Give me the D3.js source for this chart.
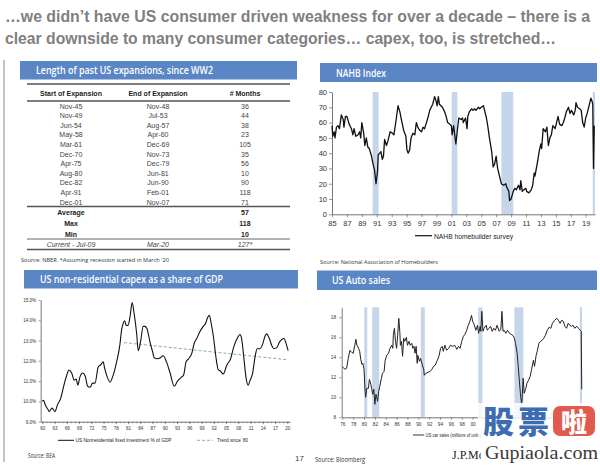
<!DOCTYPE html>
<html><head><meta charset="utf-8">
<script src="https://cdn.jsdelivr.net/npm/d3@7"></script>
<style>body{margin:0;background:#fff}svg{display:block}</style>
</head><body>
<svg id="c" width="600" height="465"></svg>
<script>
// ---------------- DATA ----------------
const titleLines = ["…we didn’t have US consumer driven weakness for over a decade – there is a",
                    "clear downside to many consumer categories… capex, too, is stretched…"];
const panelTitles = ["Length of past US expansions, since WW2", "NAHB Index",
                     "US non-residential capex as a share of GDP", "US Auto sales"];

const tableHead = ["Start of Expansion", "End of Expansion", "# Months"];
const expStart = ["Nov-45","Nov-49","Jun-54","May-58","Mar-61","Dec-70","Apr-75","Aug-80","Dec-82","Apr-91","Dec-01"];
const expEnd   = ["Nov-48","Jul-53","Aug-57","Apr-60","Dec-69","Nov-73","Dec-79","Jun-81","Jun-90","Feb-01","Nov-07"];
const expMonths = [36,44,38,23,105,35,56,10,90,118,71];
const statLabels = ["Average","Max","Min"];
const statValues = [57,118,10];
const currentRow = ["Current - Jul-09","Mar-20","127*"];

const nahbDates = [1985.0,1985.1,1985.3,1985.4,1985.6,1985.8,1986.0,1986.25,1986.5,1986.6,1986.8,1987.0,1987.3,1987.6,1987.8,1987.95,1988.2,1988.5,1988.7,1988.85,1989.0,1989.25,1989.4,1989.6,1989.8,1990.0,1990.3,1990.5,1990.7,1990.9,1991.1,1991.2,1991.4,1991.55,1991.75,1991.9,1992.05,1992.3,1992.5,1992.8,1993.1,1993.3,1993.6,1993.85,1994.1,1994.3,1994.6,1994.9,1995.05,1995.2,1995.4,1995.6,1995.85,1996.1,1996.3,1996.5,1996.75,1997.0,1997.2,1997.4,1997.6,1997.9,1998.1,1998.3,1998.5,1998.75,1998.9,1999.1,1999.25,1999.4,1999.8,2000.1,2000.3,2000.5,2000.76,2001.0,2001.1,2001.3,2001.6,2001.8,2002.0,2002.3,2002.5,2002.6,2002.9,2003.1,2003.2,2003.4,2003.7,2003.9,2004.1,2004.3,2004.6,2004.8,2005.0,2005.3,2005.4,2005.7,2005.9,2006.1,2006.4,2006.6,2006.8,2007.0,2007.2,2007.5,2007.7,2008.0,2008.3,2008.4,2008.7,2008.8,2009.0,2009.3,2009.5,2009.7,2010.0,2010.2,2010.3,2010.5,2010.7,2011.0,2011.1,2011.4,2011.7,2011.9,2012.1,2012.2,2012.5,2012.8,2013.0,2013.1,2013.3,2013.6,2013.8,2014.0,2014.2,2014.4,2014.6,2014.9,2015.1,2015.3,2015.5,2015.8,2016.0,2016.2,2016.4,2016.7,2016.9,2017.1,2017.4,2017.6,2017.7,2017.9,2018.2,2018.4,2018.6,2018.8,2019.0,2019.2,2019.4,2019.7,2019.85,2019.95,2020.05,2020.15];
const nahbValues = [58,51,54,50,57,58,56,65,62,57,64,64,59,56,52,56,51,52,54,50,60,53,45,50,44,43,38,33,29,20,28,39,40,41,36,38,49,45,48,54,53,52,62,71,67,62,55,51,42,40,42,50,53,52,60,57,55,54,57,56,59,64,68,70,72,77,75,71,77,72,70,67,64,60,59,58,52,58,46,55,63,62,63,60,63,56,64,67,69,68,69,68,70,69,70,71,69,63,57,50,41,31,33,38,30,24,20,19,20,18,15,9,10,15,17,16,19,16,22,15,16,17,15,14,16,19,27,25,33,42,46,43,56,54,57,45,50,52,58,56,60,64,59,58,60,63,67,70,66,68,65,68,73,70,69,68,60,57,63,66,70,76,74,72,30,58];
const nahbRecessions = [[1990.45,1991.25],[2001.05,2001.8],[2007.7,2009.3],[2019.95,2020.25]];
const nahbYTicks = [0,10,20,30,40,50,60,70,80];
const nahbXTicks = [1985,1987,1989,1991,1993,1995,1997,1999,2001,2003,2005,2007,2009,2011,2013,2015,2017,2019];

const capexDates = [1960.0,1960.3,1960.8,1961.4,1961.7,1962.4,1963.1,1963.7,1964.5,1965.3,1966.0,1966.5,1967.2,1967.8,1968.3,1968.7,1969.2,1969.9,1970.5,1971.1,1971.7,1972.3,1972.9,1973.7,1974.3,1974.9,1975.3,1975.9,1976.6,1977.2,1978.2,1979.0,1979.4,1979.8,1980.2,1980.5,1981.0,1981.5,1982.0,1982.5,1983.1,1983.5,1984.1,1984.7,1985.1,1985.6,1986.4,1987.0,1987.4,1988.2,1988.9,1989.6,1990.4,1991.3,1992.3,1993.1,1994.1,1994.6,1995.2,1995.8,1996.6,1997.2,1997.8,1998.6,1999.4,2000.0,2000.4,2000.9,2001.3,2001.9,2002.5,2003.1,2003.6,2004.3,2005.2,2006.1,2006.9,2007.7,2008.4,2008.8,2009.4,2009.9,2010.4,2010.9,2011.5,2012.1,2012.6,2013.3,2014.0,2014.5,2014.9,2015.6,2016.2,2016.7,2017.4,2018.0,2018.6,2019.2,2019.7,2020.2];
const capexValues = [10.0,10.05,9.8,9.6,9.5,9.67,9.5,9.83,10.15,10.8,11.3,11.55,11.4,11.05,11.1,10.8,11.2,11.4,11.25,10.75,10.7,10.9,10.9,11.7,11.8,11.95,11.6,11.2,10.95,11.2,11.95,12.8,13.5,13.85,13.98,13.75,13.75,14.2,14.87,14.3,13.35,12.5,13.0,13.7,13.7,13.6,12.9,12.45,12.15,12.1,12.15,12.25,11.95,11.4,10.75,11.0,11.2,11.3,11.95,12.1,12.37,12.87,13.1,13.45,13.7,13.85,14.1,14.25,13.9,13.2,12.2,11.55,11.5,11.35,11.8,12.1,12.7,13.1,13.3,13.1,12.05,11.15,10.8,11.05,11.4,12.2,12.6,12.6,12.85,13.2,13.33,13.1,12.75,12.6,12.65,12.9,13.05,13.1,12.85,12.5];
const trendDates = [1980.0, 2020.2];
const trendValues = [12.9, 12.05];
const capexYTicks = [9,10,11,12,13,14,15];
const capexXTicks = [1960,1963,1966,1969,1972,1975,1978,1981,1984,1987,1990,1993,1996,1999,2002,2005,2008,2011,2014,2017,2020];

const autoDates = [1976.0,1976.5,1976.8,1977.1,1977.4,1977.7,1978.0,1978.3,1978.5,1978.7,1979.0,1979.2,1979.4,1979.6,1979.8,1980.0,1980.2,1980.3,1980.5,1980.8,1981.0,1981.25,1981.4,1981.6,1981.8,1982.0,1982.2,1982.3,1982.5,1982.7,1982.9,1983.2,1983.4,1983.7,1983.9,1984.2,1984.5,1984.8,1985.1,1985.3,1985.4,1985.6,1985.8,1986.0,1986.2,1986.4,1986.6,1986.7,1986.9,1987.1,1987.3,1987.5,1987.8,1988.0,1988.3,1988.5,1988.8,1989.0,1989.2,1989.4,1989.6,1989.8,1989.9,1990.2,1990.4,1990.7,1991.0,1991.1,1991.4,1991.8,1992.2,1992.5,1992.8,1993.1,1993.5,1993.8,1994.1,1994.4,1994.6,1994.9,1995.2,1995.6,1995.9,1996.3,1996.7,1997.1,1997.4,1997.7,1998.0,1998.3,1998.6,1998.9,1999.2,1999.5,1999.8,2000.0,2000.2,2000.6,2000.9,2001.1,2001.4,2001.5,2001.7,2001.9,2002.1,2002.5,2002.7,2003.0,2003.3,2003.6,2003.9,2004.2,2004.5,2004.9,2005.2,2005.4,2005.6,2005.8,2006.1,2006.4,2006.8,2007.1,2007.4,2007.7,2007.9,2008.2,2008.4,2008.6,2008.8,2009.0,2009.1,2009.3,2009.5,2009.8,2010.0,2010.3,2010.6,2010.9,2011.2,2011.4,2011.7,2011.9,2012.2,2012.5,2012.8,2013.1,2013.4,2013.75,2014.1,2014.4,2014.7,2015.1,2015.5,2015.8,2016.1,2016.4,2016.7,2017.0,2017.3,2017.6,2017.9,2018.2,2018.5,2018.8,2019.2,2019.5,2019.8,2020.0,2020.1];
const autoValues = [13.06,12.8,12.9,13.9,14.7,14.5,14.4,15.2,15.8,15.2,14.9,14.6,13.8,13.3,13.4,12.8,10.6,10.0,10.9,10.9,11.8,11.3,10.9,10.3,10.8,9.3,10.3,10.1,9.6,10.6,11.1,11.9,12.4,12.6,13.7,14.2,14.4,14.9,15.2,14.9,16.2,16.9,15.6,14.9,16.2,17.9,16.5,15.2,15.6,14.1,15.9,15.6,16.0,15.2,15.6,15.2,15.4,14.9,15.1,14.4,15.1,13.4,14.2,13.6,13.9,13.3,12.8,12.2,12.4,12.5,12.6,12.8,13.1,13.2,13.7,14.1,14.9,15.1,14.6,15.2,14.7,14.9,15.2,15.1,15.2,14.8,15.1,14.9,15.6,16.1,16.3,16.7,17.2,17.6,18.2,17.6,17.4,16.7,17.2,16.4,17.1,16.6,18.6,16.6,16.9,17.2,16.7,16.9,17.1,16.6,16.9,16.7,17.2,16.6,16.8,18.6,16.6,16.7,16.4,16.7,16.4,16.3,16.2,15.9,15.4,14.4,13.1,11.7,10.4,9.4,9.6,11.9,10.4,10.9,11.4,11.7,12.1,12.9,13.7,13.1,14.2,14.6,15.4,15.6,15.7,15.9,16.2,16.7,17.0,16.9,17.4,17.7,17.9,17.7,17.4,17.7,17.6,17.1,16.9,17.4,17.2,17.1,17.2,16.9,17.1,16.9,16.7,16.6,10.8];
const autoRecessions = [[1980.05,1980.6],[1981.5,1982.8],[1990.45,1991.2],[2001.05,2001.8],[2007.7,2009.35],[2019.75,2020.15]];
const autoYTicks = [8,10,12,14,16,18];
const autoXTicks = [1976,1978,1980,1982,1984,1986,1988,1990,1992,1994,1996,1998,2000,2002,2004,2006,2008,2010,2012,2014,2016,2018,2020];
const autoLastVisibleLabel = 2000; // later labels are hidden beneath the watermark in the reference

const sources = ["Source: NBER. *Assuming recession started in March '20", "Source: National Association of Homebuilders", "Source: BEA", "Source: Bloomberg"];
const legendLabels = ["NAHB homebuilder survey","US Nonresidential fixed investment % of GDP","Trend since '80","US car sales (millions of units)"];

// ---------------- DRAW ----------------
const svg = d3.select('#c');
const SANS = "Liberation Sans, Arial, sans-serif";
const NARROW = "Liberation Sans Narrow, Liberation Sans, Arial, sans-serif";
const HEAD = "Open Sans, DejaVu Sans, sans-serif";
const BLUE = "#5a86c5", BAND = "#c6d6ea";

function txt(g, x, y, s, o = {}) {
  const t = g.append('text').attr('x', x).attr('y', y).text(s)
    .attr('font-family', o.ff || SANS).attr('font-size', o.fs || 7)
    .attr('fill', o.fill || '#333').attr('text-anchor', o.anchor || 'start');
  if (o.fw) t.attr('font-weight', o.fw);
  if (o.fst) t.attr('font-style', o.fst);
  if (o.len) t.attr('textLength', o.len).attr('lengthAdjust', 'spacingAndGlyphs');
  return t;
}
function styleAxis(g, fs) {
  g.selectAll('path.domain').attr('stroke', '#555').attr('stroke-width', 0.8);
  g.selectAll('.tick line').attr('stroke', '#555').attr('stroke-width', 0.6);
  g.selectAll('.tick text').attr('font-family', NARROW).attr('font-size', fs).attr('fill', '#333');
}
const yy = d => String(d % 100).padStart(2, '0');

// Title
txt(svg, 5, 22, titleLines[0], {fs: 16, fw: 'bold', fill: '#808080', len: 585});
txt(svg, 5, 44, titleLines[1], {fs: 16, fw: 'bold', fill: '#808080', len: 551});

// left border
svg.append('line').attr('x1', 4).attr('x2', 4).attr('y1', 60).attr('y2', 462).attr('stroke', '#c4c4c4').attr('stroke-width', 2);

// panel headers
const heads = [[20, 61, 277, 18.5, 36, 74, 177], [320, 63, 277, 19, 336, 76.5, 50], [24, 270, 274, 18.5, 40, 283, 183], [317, 270.5, 280, 19.5, 332, 284, 58]];
heads.forEach((h, i) => {
  svg.append('rect').attr('x', h[0]).attr('y', h[1]).attr('width', h[2]).attr('height', h[3]).attr('fill', BLUE);
  txt(svg, h[4], h[5], panelTitles[i], {ff: HEAD, fs: 10, fw: 600, fill: '#fff', len: h[6]});
});

// ---- Table ----
const tg = svg.append('g');
const colX = [71, 158, 245];
[[84, 1.6], [101, 1.3], [206.5, 1.3], [239, 0.9], [249.5, 1.6]].forEach(r =>
  tg.append('line').attr('x1', 27).attr('x2', 290).attr('y1', r[0]).attr('y2', r[0]).attr('stroke', '#555').attr('stroke-width', r[1]));
tableHead.forEach((s, i) => txt(tg, colX[i], 95.5, s, {ff: NARROW, fs: 7, fw: 'bold', fill: '#222', anchor: 'middle'}));
const rowY = d3.scalePoint().domain(d3.range(expStart.length)).range([106, 202]);
expStart.forEach((s, i) => {
  const y = rowY(i) + 2.5;
  txt(tg, colX[0], y, s, {ff: NARROW, fs: 7, fill: '#444', anchor: 'middle'});
  txt(tg, colX[1], y, expEnd[i], {ff: NARROW, fs: 7, fill: '#444', anchor: 'middle'});
  txt(tg, colX[2], y, expMonths[i], {ff: NARROW, fs: 7, fill: '#444', anchor: 'middle'});
});
const statY = d3.scalePoint().domain(d3.range(3)).range([212, 234]);
statLabels.forEach((s, i) => {
  txt(tg, colX[0], statY(i) + 2.5, s, {ff: NARROW, fs: 7, fw: 'bold', fill: '#222', anchor: 'middle'});
  txt(tg, colX[2], statY(i) + 2.5, statValues[i], {ff: NARROW, fs: 7, fw: 'bold', fill: '#222', anchor: 'middle'});
});
currentRow.forEach((s, i) => txt(tg, colX[i], 246.5, s, {ff: NARROW, fs: 7, fst: 'italic', fill: '#444', anchor: 'middle'}));
txt(svg, 21, 261.5, sources[0], {ff: HEAD, fs: 6, fill: '#333', len: 148});

// ---- NAHB ----
const xN = d3.scaleLinear().domain([1985, 2020.25]).range([332, 595]);
const yN = d3.scaleLinear().domain([0, 80]).range([214.3, 92]);
const ng = svg.append('g');
nahbRecessions.forEach(r => ng.append('rect').attr('x', xN(r[0])).attr('width', xN(r[1]) - xN(r[0]))
  .attr('y', yN(80)).attr('height', yN(0) - yN(80)).attr('fill', BAND));
const gxN = ng.append('g').attr('transform', `translate(0,${yN(0)})`)
  .call(d3.axisBottom(xN).tickValues(nahbXTicks).tickFormat(yy).tickSize(3).tickSizeOuter(0).tickPadding(3));
styleAxis(gxN, 7.5);
const gyN = ng.append('g').attr('transform', `translate(${xN(1985)},0)`)
  .call(d3.axisLeft(yN).tickValues(nahbYTicks).tickSize(3).tickSizeOuter(0).tickPadding(2));
styleAxis(gyN, 7.5);
ng.append('path').datum(d3.zip(nahbDates, nahbValues)).attr('fill', 'none').attr('stroke', '#111').attr('stroke-width', 1.3)
  .attr('stroke-linejoin', 'round').attr('d', d3.line().x(d => xN(d[0])).y(d => yN(d[1])));
ng.append('line').attr('x1', 415).attr('x2', 432).attr('y1', 235.7).attr('y2', 235.7).attr('stroke', '#111').attr('stroke-width', 1.2);
txt(ng, 434, 238.5, legendLabels[0], {ff: NARROW, fs: 7.5, fill: '#222', len: 79});
txt(svg, 320, 263.5, sources[1], {ff: HEAD, fs: 6, fill: '#333', len: 118});

// ---- Capex ----
const xC = d3.scaleLinear().domain([1959.6, 2020.7]).range([40.67, 290.2]);
const yC = d3.scaleLinear().domain([9, 15]).range([421.7, 300]);
const cg = svg.append('g');
const gxC = cg.append('g').attr('transform', `translate(0,${yC(9)})`)
  .call(d3.axisBottom(xC).tickValues(capexXTicks).tickFormat(yy).tickSize(2.5).tickSizeOuter(0).tickPadding(2.5));
styleAxis(gxC, 4.6);
cg.append('g').attr('transform', `translate(0,${yC(9)})`)
  .call(d3.axisBottom(xC).tickValues(d3.range(1960, 2021)).tickFormat('').tickSize(1.5).tickSizeOuter(0))
  .call(g => { g.select('.domain').remove(); g.selectAll('.tick line').attr('stroke', '#555').attr('stroke-width', 0.5); });
const gyC = cg.append('g').attr('transform', `translate(${xC(1959.6)},0)`)
  .call(d3.axisLeft(yC).tickValues(capexYTicks).tickFormat(d => d.toFixed(1) + '%').tickSize(2).tickSizeOuter(0).tickPadding(2.5));
styleAxis(gyC, 4.6);
cg.append('path').datum(d3.zip(trendDates, trendValues)).attr('fill', 'none').attr('stroke', '#86aeb4').attr('stroke-width', 1)
  .attr('stroke-dasharray', '3,2').attr('d', d3.line().x(d => xC(d[0])).y(d => yC(d[1])));
cg.append('path').datum(d3.zip(capexDates, capexValues)).attr('fill', 'none').attr('stroke', '#111').attr('stroke-width', 1.1)
  .attr('d', d3.line().curve(d3.curveMonotoneX).x(d => xC(d[0])).y(d => yC(d[1])));
cg.append('line').attr('x1', 58).attr('x2', 74).attr('y1', 440.3).attr('y2', 440.3).attr('stroke', '#111').attr('stroke-width', 1);
txt(cg, 75.5, 442, legendLabels[1], {ff: NARROW, fs: 5, fill: '#222', len: 96});
cg.append('line').attr('x1', 197).attr('x2', 213).attr('y1', 440.3).attr('y2', 440.3).attr('stroke', '#86aeb4').attr('stroke-width', 1).attr('stroke-dasharray', '3,2');
txt(cg, 217, 442, legendLabels[2], {ff: NARROW, fs: 5, fill: '#222', len: 31});
txt(svg, 28, 458, sources[2], {ff: HEAD, fs: 6.5, fill: '#333', len: 27});
txt(svg, 295, 460.5, '17', {ff: SANS, fs: 8, fill: '#444'});

// ---- Auto ----
const xA = d3.scaleLinear().domain([1976, 2020.2]).range([342.3, 582.3]);
const yA = d3.scaleLinear().domain([8, 19]).range([417.3, 307.3]);
const ag = svg.append('g');
autoRecessions.forEach(r => ag.append('rect').attr('x', xA(r[0])).attr('width', xA(r[1]) - xA(r[0]))
  .attr('y', yA(19)).attr('height', yA(8) - yA(19)).attr('fill', BAND));
const gxA = ag.append('g').attr('transform', `translate(0,${yA(8)})`)
  .call(d3.axisBottom(xA).tickValues(autoXTicks).tickFormat(d => d <= autoLastVisibleLabel ? yy(d) : '')
    .tickSize(2.5).tickSizeOuter(0).tickPadding(2.5));
styleAxis(gxA, 4.8);
const gyA = ag.append('g').attr('transform', `translate(${xA(1976) - 0.6},0)`)
  .call(d3.axisLeft(yA).tickValues(autoYTicks).tickSize(2.5).tickSizeOuter(0).tickPadding(3));
styleAxis(gyA, 4.8);
ag.append('path').datum(d3.zip(autoDates, autoValues)).attr('fill', 'none').attr('stroke', '#222').attr('stroke-width', 1)
  .attr('stroke-linejoin', 'round').attr('d', d3.line().x(d => xA(d[0])).y(d => yA(d[1])));
ag.append('line').attr('x1', 413).attr('x2', 424).attr('y1', 435).attr('y2', 435).attr('stroke', '#222').attr('stroke-width', 0.9);
txt(ag, 425.5, 436.7, legendLabels[3], {ff: NARROW, fs: 5, fill: '#222', len: 56});
txt(svg, 315, 461.5, sources[3], {ff: HEAD, fs: 6.5, fill: '#333', len: 50});

// logo (partly hidden) + watermark
svg.append('clipPath').attr('id', 'jpmclip').append('rect').attr('x', 440).attr('y', 440).attr('width', 41).attr('height', 25);
txt(svg.append('g').attr('clip-path', 'url(#jpmclip)'), 452, 459, 'J.P.Morgan', {ff: 'Liberation Serif, serif', fs: 12, fill: '#222'});
const wm = svg.append('g');
wm.append('rect').attr('x', 478).attr('y', 403).attr('width', 122).attr('height', 36).attr('fill', '#fff').attr('opacity', 0.8);
txt(wm, 483, 432.5, '股', {ff: 'Noto Sans CJK SC', fs: 31, fw: 900, fill: '#3e6cb3'});
txt(wm, 518, 432.5, '票', {ff: 'Noto Sans CJK SC', fs: 31, fw: 900, fill: '#3e6cb3'});
wm.append('rect').attr('x', 553).attr('y', 406).attr('width', 42).attr('height', 30).attr('rx', 7).attr('fill', '#e05a4e');
txt(wm, 574, 431.5, '啦', {ff: 'Noto Sans CJK SC', fs: 26, fw: 900, fill: '#fff', anchor: 'middle'});
wm.append('rect').attr('x', 482).attr('y', 440).attr('width', 118).attr('height', 24).attr('fill', '#fff');
txt(wm, 485, 459, 'Gupiaola.com', {ff: 'Liberation Serif, serif', fs: 19, fill: '#3a3a3a', len: 113});
</script>
</body></html>
